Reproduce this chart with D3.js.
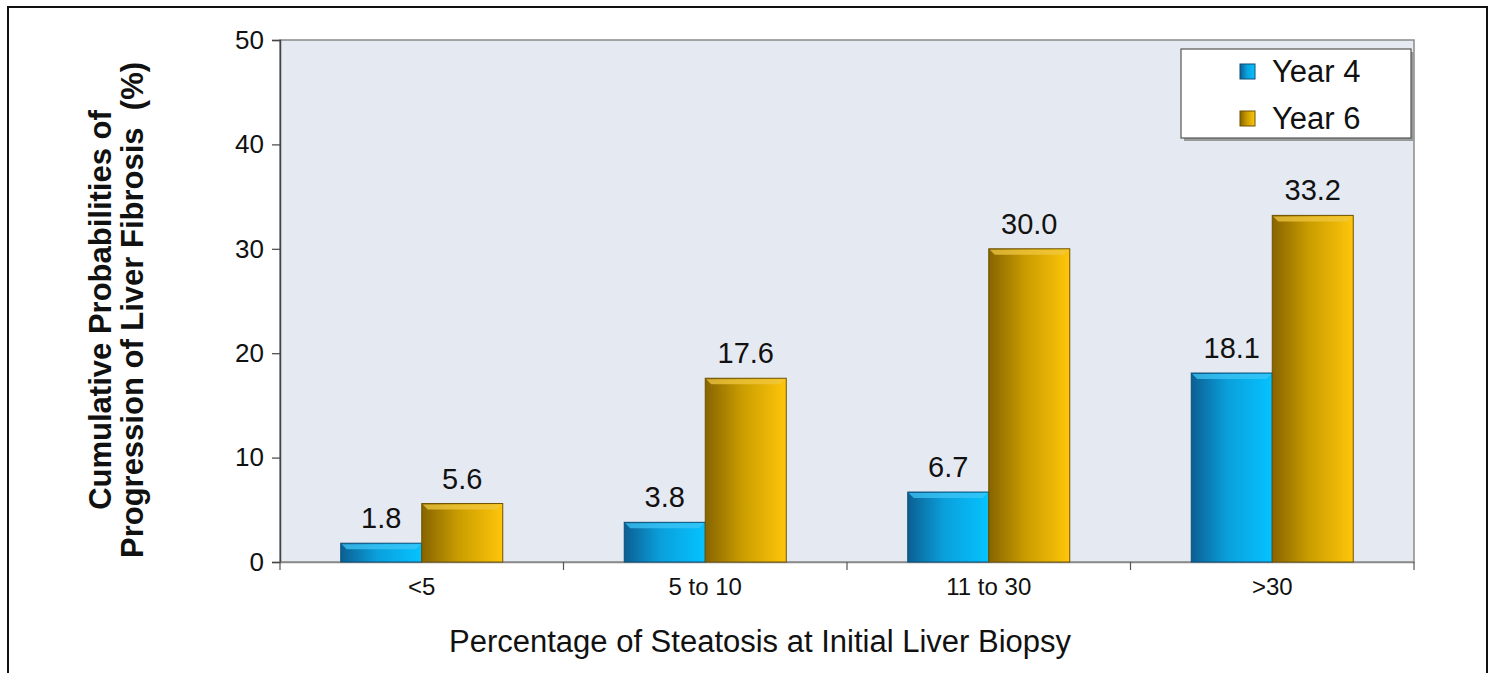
<!DOCTYPE html>
<html><head><meta charset="utf-8">
<script src="https://cdn.jsdelivr.net/npm/d3@7/dist/d3.min.js"></script>
<style>html,body{margin:0;padding:0;background:#fff;}svg{display:block;font-family:"Liberation Sans",Arial,sans-serif;}</style>
</head><body>
<script>
const categories = ["<5", "5 to 10", "11 to 30", ">30"];
const series = ["Year 4", "Year 6"];
const year4 = [1.8, 3.8, 6.7, 18.1];
const year6 = [5.6, 17.6, 30.0, 33.2];
const yTicks = [0, 10, 20, 30, 40, 50];
const yTitle = ["Cumulative Probabilities of", "Progression of Liver Fibrosis\u00a0\u00a0(%)"];
const xTitle = "Percentage of Steatosis at Initial Liver Biopsy";

const W = 1494, H = 673;
const m = {left: 280, right: 1414, top: 40, bottom: 562};
const FONT = "Liberation Sans, Arial, sans-serif";
const svg = d3.select("body").append("svg").attr("width", W).attr("height", H);

const defs = svg.append("defs");
const grads = [
  {id: "g0", stops: [["0%", "#0b5f92"], ["45%", "#0aa0dc"], ["100%", "#05c3ff"]], stroke: "#0b4f7a", top: "#3fc6f5"},
  {id: "g1", stops: [["0%", "#876400"], ["45%", "#c99c00"], ["100%", "#ffc60a"]], stroke: "#6e5200", top: "#f0c740"}
];
grads.forEach(g => {
  const lg = defs.append("linearGradient").attr("id", g.id).attr("x1", "0%").attr("x2", "100%").attr("y1", "0%").attr("y2", "0%");
  g.stops.forEach(s => lg.append("stop").attr("offset", s[0]).attr("stop-color", s[1]));
});

// outer frame
svg.append("rect").attr("x", 8).attr("y", 7).attr("width", 1479).attr("height", 700)
  .attr("fill", "none").attr("stroke", "#111").attr("stroke-width", 2);

const x0 = d3.scaleBand().domain(categories).range([m.left, m.right]).padding(0);
const x1 = d3.scaleBand().domain(series).range([0, x0.bandwidth()]).paddingInner(0).paddingOuter(0.75);
const y = d3.scaleLinear().domain([0, 50]).range([m.bottom, m.top]);

// plot area
svg.append("rect").attr("x", m.left).attr("y", m.top).attr("width", m.right - m.left).attr("height", m.bottom - m.top)
  .attr("fill", "#e5e9f1").attr("stroke", "#8a8a8a").attr("stroke-width", 1.5);

// y axis
const yAxis = svg.append("g").attr("transform", `translate(${m.left},0)`)
  .call(d3.axisLeft(y).tickValues(yTicks).tickSize(8).tickPadding(8).tickFormat(d3.format("d")));
yAxis.attr("font-size", null).attr("font-family", null);
yAxis.select(".domain").attr("stroke", "#444").attr("stroke-width", 1.5);
yAxis.selectAll(".tick line").attr("stroke", "#444").attr("stroke-width", 1.2);
yAxis.selectAll(".tick text").style("font-size", "26px").attr("fill", "#111").style("font-family", FONT);

// x axis
const xAxis = svg.append("g").attr("transform", `translate(0,${m.bottom})`)
  .call(d3.axisBottom(x0).tickSize(0).tickPadding(16));
xAxis.attr("font-size", null).attr("font-family", null);
xAxis.select(".domain").attr("stroke", "#8a8a8a").attr("stroke-width", 1.5);
xAxis.selectAll(".tick text").style("font-size", "24px").attr("fill", "#111").style("font-family", FONT);
// category boundary ticks
const bounds = categories.map(c => x0(c)).concat([x0.range()[1]]);
svg.append("g").selectAll("line").data(bounds).join("line")
  .attr("x1", d => d).attr("x2", d => d).attr("y1", m.bottom).attr("y2", m.bottom + 8)
  .attr("stroke", "#555").attr("stroke-width", 1.2);

// bars
const data = [];
categories.forEach((c, i) => {
  data.push({c, s: 0, v: year4[i]});
  data.push({c, s: 1, v: year6[i]});
});
const bars = svg.append("g").selectAll("g").data(data).join("g");
bars.append("rect")
  .attr("x", d => x0(d.c) + x1(series[d.s]))
  .attr("y", d => y(d.v))
  .attr("width", x1.bandwidth())
  .attr("height", d => y(0) - y(d.v))
  .attr("fill", d => `url(#${grads[d.s].id})`)
  .attr("stroke", d => grads[d.s].stroke).attr("stroke-width", 1);
bars.append("path")
  .attr("d", d => {
    const xl = x0(d.c) + x1(series[d.s]), xr = xl + x1.bandwidth(), yt = y(d.v);
    return `M${xl + 1},${yt + 1}L${xr - 1},${yt + 1}L${xr - 6},${yt + 6}L${xl + 6},${yt + 6}Z`;
  })
  .attr("fill", d => grads[d.s].top).attr("opacity", 0.75);
bars.append("text")
  .attr("x", d => x0(d.c) + x1(series[d.s]) + x1.bandwidth() / 2)
  .attr("y", d => y(d.v) - 15)
  .attr("text-anchor", "middle").style("font-size", "29px").attr("fill", "#111")
  .text(d => d3.format(".1f")(d.v));

// legend
const lg = svg.append("g");
lg.append("rect").attr("x", 1184).attr("y", 52).attr("width", 230).attr("height", 89).attr("fill", "#9a9a9a");
lg.append("rect").attr("x", 1181).attr("y", 49).attr("width", 230).attr("height", 89)
  .attr("fill", "#fff").attr("stroke", "#555").attr("stroke-width", 1.2);
series.forEach((s, i) => {
  const cy = 71 + i * 47;
  lg.append("rect").attr("x", 1240).attr("y", cy - 7).attr("width", 15).attr("height", 15)
    .attr("fill", `url(#${grads[i].id})`).attr("stroke", grads[i].stroke).attr("stroke-width", 1);
  lg.append("text").attr("x", 1272).attr("y", cy + 11).style("font-size", "31px").attr("fill", "#111").text(s);
});

// y title
const yt = svg.append("text").attr("transform", `translate(111,310) rotate(-90)`)
  .attr("text-anchor", "middle").style("font-size", "31px").attr("font-weight", "bold").attr("fill", "#111");
yTitle.forEach((t, i) => yt.append("tspan").attr("x", 0).attr("y", i * 32).text(t));

// x title
svg.append("text").attr("x", 760).attr("y", 652)
  .attr("text-anchor", "middle").style("font-size", "31px").attr("fill", "#111").text(xTitle);
</script>
</body></html>
